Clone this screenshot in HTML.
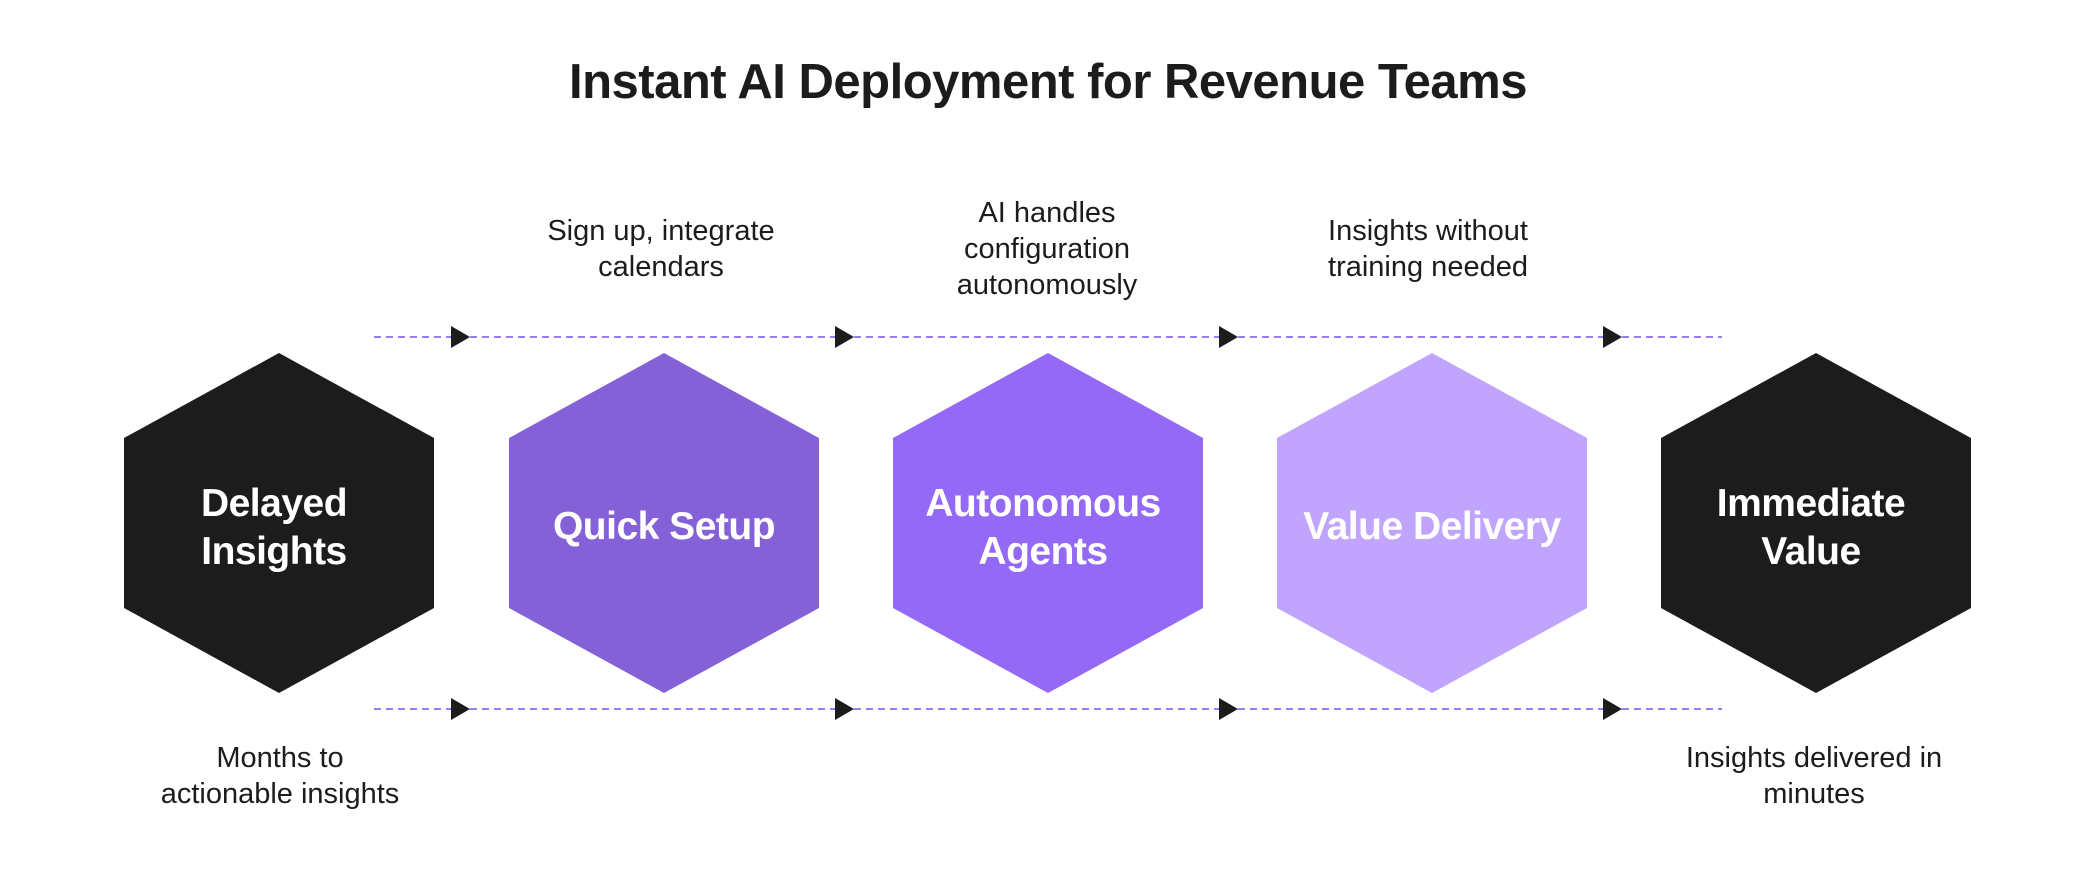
<!DOCTYPE html>
<html><head><meta charset="utf-8"><style>
html,body{margin:0;padding:0;background:#fff;}
svg{display:block;}
text{font-family:"Liberation Sans",sans-serif;}
</style></head><body>
<svg width="2096" height="888" viewBox="0 0 2096 888" xmlns="http://www.w3.org/2000/svg">
<text x="1048" y="98" text-anchor="middle" font-size="49" font-weight="700" fill="#1c1c1c" letter-spacing="-0.5">Instant AI Deployment for Revenue Teams</text>
<g stroke="#9c7cf6" stroke-width="2" stroke-dasharray="7,5">
<line x1="374" y1="337" x2="1722" y2="337"/>
<line x1="374" y1="709" x2="1722" y2="709"/>
</g>
<g fill="#1c1c1c">
<polygon points="451,326 470,337 451,348"/><polygon points="835,326 854,337 835,348"/><polygon points="1219,326 1238,337 1219,348"/><polygon points="1603,326 1622,337 1603,348"/>
<polygon points="451,698 470,709 451,720"/><polygon points="835,698 854,709 835,720"/><polygon points="1219,698 1238,709 1219,720"/><polygon points="1603,698 1622,709 1603,720"/>
</g>
<polygon points="279,353 434,438 434,608 279,693 124,608 124,438" fill="#1c1c1c"/>
<polygon points="664,353 819,438 819,608 664,693 509,608 509,438" fill="#8561d8"/>
<polygon points="1048,353 1203,438 1203,608 1048,693 893,608 893,438" fill="#9469f5"/>
<polygon points="1432,353 1587,438 1587,608 1432,693 1277,608 1277,438" fill="#c0a4fd"/>
<polygon points="1816,353 1971,438 1971,608 1816,693 1661,608 1661,438" fill="#1c1c1c"/>
<g fill="#fff" font-size="39" font-weight="700" text-anchor="middle" letter-spacing="-0.5">
<text x="274" y="516">Delayed</text><text x="274" y="564">Insights</text>
<text x="664" y="539">Quick Setup</text>
<text x="1043" y="516">Autonomous</text><text x="1043" y="564">Agents</text>
<text x="1432" y="539">Value Delivery</text>
<text x="1811" y="516">Immediate</text><text x="1811" y="564">Value</text>
</g>
<g fill="#1c1c1c" font-size="29" text-anchor="middle">
<text x="661" y="240">Sign up, integrate</text><text x="661" y="276">calendars</text>
<text x="1047" y="222">AI handles</text><text x="1047" y="258">configuration</text><text x="1047" y="294">autonomously</text>
<text x="1428" y="240">Insights without</text><text x="1428" y="276">training needed</text>
<text x="280" y="767">Months to</text><text x="280" y="803">actionable insights</text>
<text x="1814" y="767">Insights delivered in</text><text x="1814" y="803">minutes</text>
</g>
</svg>
</body></html>
